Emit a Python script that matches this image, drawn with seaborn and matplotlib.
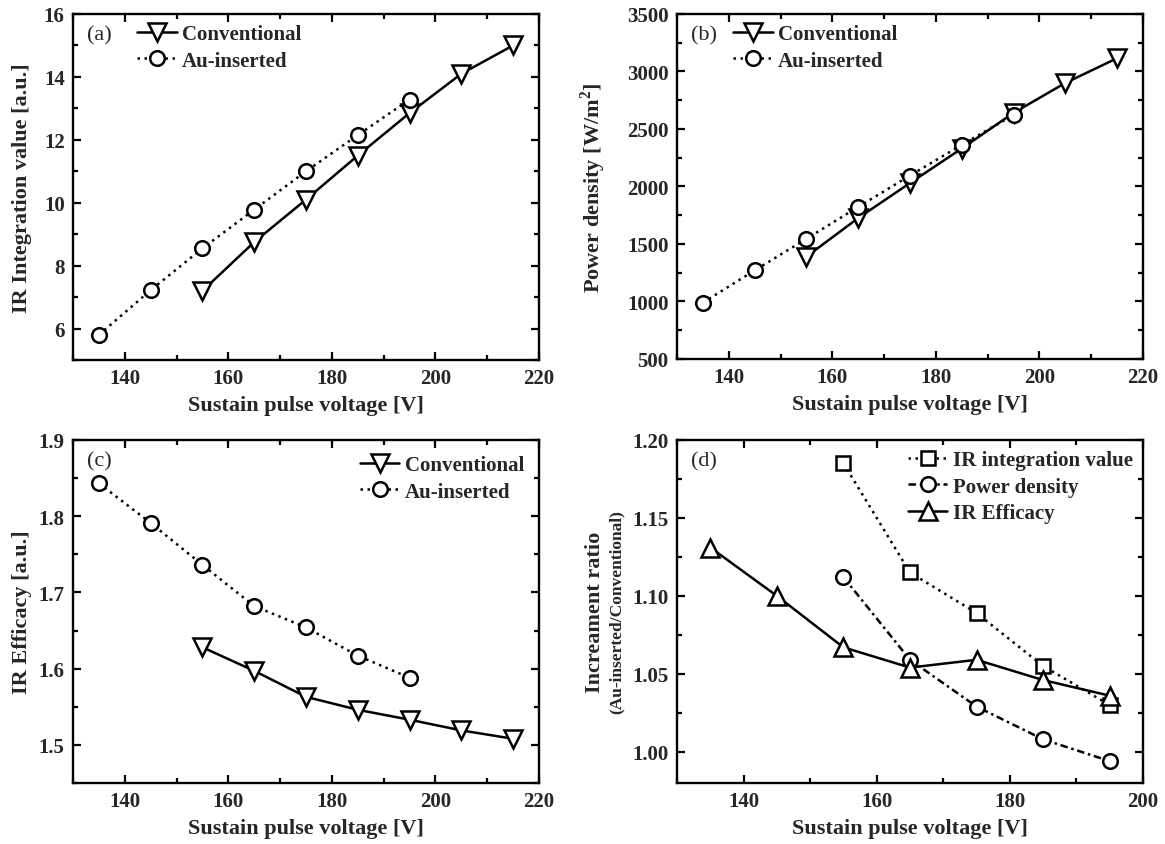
import matplotlib
matplotlib.use("Agg")
import matplotlib.pyplot as plt
from matplotlib.ticker import MultipleLocator, FormatStrFormatter
import seaborn as sns

# data
volt_conv = [155, 165, 175, 185, 195, 205, 215]
volt_au = [135, 145, 155, 165, 175, 185, 195]

ir_conv = [7.2, 8.75, 10.1, 11.5, 12.85, 14.1, 15.0]
ir_au = [5.8, 7.22, 8.55, 9.78, 11.0, 12.15, 13.28]

pd_conv = [1390, 1725, 2030, 2330, 2640, 2900, 3115]
pd_au = [990, 1270, 1545, 1822, 2095, 2362, 2622]

eff_conv = [1.628, 1.597, 1.563, 1.546, 1.533, 1.519, 1.508]
eff_au = [1.843, 1.791, 1.736, 1.682, 1.654, 1.617, 1.588]

volt_ratio = [155, 165, 175, 185, 195]
ratio_ir = [1.185, 1.115, 1.089, 1.055, 1.030]
ratio_pd = [1.112, 1.059, 1.029, 1.008, 0.994]
volt_ratio_eff = [135, 145, 155, 165, 175, 185, 195]
ratio_eff = [1.131, 1.100, 1.067, 1.054, 1.059, 1.046, 1.036]

sns.set_style("ticks")
plt.rcParams['font.family'] = ['Liberation Serif', 'DejaVu Serif']
plt.rcParams['font.weight'] = 'bold'
plt.rcParams['axes.labelweight'] = 'bold'
plt.rcParams['mathtext.fontset'] = 'custom'
plt.rcParams['mathtext.rm'] = 'Liberation Serif:bold'
plt.rcParams['mathtext.bf'] = 'Liberation Serif:bold'

XLABEL = "Sustain pulse voltage [V]"
DOT = (0, (1, 1.8))
DASHDOT = (0, (3, 1.5, 1, 1.5))


def draw(ax, x, y, marker, ms, ls, label):
    sns.lineplot(x=x, y=y, ax=ax, color="black", marker=marker, markersize=ms,
                 markerfacecolor="white", markeredgecolor="black",
                 markeredgewidth=1.8, linewidth=1.8, linestyle=ls, label=label)


def style_axis(ax, xlim, ylim, xmaj, ymaj, ylabel, ylab_x, tag):
    ax.set_xlim(*xlim)
    ax.set_ylim(*ylim)
    ax.xaxis.set_major_locator(MultipleLocator(xmaj))
    ax.xaxis.set_minor_locator(MultipleLocator(xmaj / 2))
    ax.yaxis.set_major_locator(MultipleLocator(ymaj))
    ax.yaxis.set_minor_locator(MultipleLocator(ymaj / 2))
    ax.tick_params(which="both", direction="in", top=True, right=True,
                   width=1.6, labelsize=15, color="black")
    ax.tick_params(which="major", length=6, pad=6)
    ax.tick_params(which="minor", length=3.5)
    for s in ax.spines.values():
        s.set_linewidth(1.7)
        s.set_color("black")
    ax.set_xlabel(XLABEL, fontsize=16, labelpad=5)
    ax.set_ylabel(ylabel, fontsize=16)
    ax.yaxis.set_label_coords(ylab_x, 0.5)
    ax.text(0.03, 0.94, tag, transform=ax.transAxes, fontsize=16,
            fontweight="normal", va="center", ha="left")


fig = plt.figure(figsize=(11.65, 8.45), dpi=100)
ax_a = fig.add_axes([0.0627, 0.5728, 0.40, 0.4095])
ax_b = fig.add_axes([0.5811, 0.5740, 0.40, 0.4083])
ax_c = fig.add_axes([0.0627, 0.0722, 0.40, 0.4060])
ax_d = fig.add_axes([0.5811, 0.0722, 0.40, 0.4060])

leg_kw = dict(frameon=False, fontsize=15, handlelength=1.9, handletextpad=0.25,
              labelspacing=0.3, borderaxespad=0.1)

# (a)
draw(ax_a, volt_conv, ir_conv, "v", 13, "-", "Conventional")
draw(ax_a, volt_au, ir_au, "o", 10.5, DOT, "Au-inserted")
style_axis(ax_a, (130, 220), (5, 16), 20, 2, "IR Integration value [a.u.]", -0.088, "(a)")
ax_a.legend(loc="upper left", bbox_to_anchor=(0.115, 1.0), **leg_kw)

# (b)
draw(ax_b, volt_conv, pd_conv, "v", 13, "-", "Conventional")
draw(ax_b, volt_au, pd_au, "o", 10.5, DOT, "Au-inserted")
style_axis(ax_b, (130, 220), (500, 3500), 20, 500, r"Power density [W/m$^{\mathbf{2}}$]", -0.148, "(b)")
ax_b.legend(loc="upper left", bbox_to_anchor=(0.098, 1.0), **leg_kw)

# (c)
draw(ax_c, volt_conv, eff_conv, "v", 13, "-", "Conventional")
draw(ax_c, volt_au, eff_au, "o", 10.5, DOT, "Au-inserted")
style_axis(ax_c, (130, 220), (1.45, 1.9), 20, 0.1, "IR Efficacy [a.u.]", -0.088, "(c)")
ax_c.legend(loc="upper right", bbox_to_anchor=(0.99, 0.985), **leg_kw)

# (d)
draw(ax_d, volt_ratio, ratio_ir, "s", 9.5, DOT, "IR integration value")
draw(ax_d, volt_ratio, ratio_pd, "o", 10.5, DASHDOT, "Power density")
draw(ax_d, volt_ratio_eff, ratio_eff, "^", 13, "-", "IR Efficacy")
style_axis(ax_d, (130, 200), (0.98, 1.20), 20, 0.05, "Increament ratio", -0.155, "(d)")
ax_d.yaxis.set_major_formatter(FormatStrFormatter("%.2f"))
ax_d.text(-0.112, 0.5, "(Au-inserted/Conventional)", transform=ax_d.transAxes,
          rotation=90, fontsize=12.5, ha="right", va="center")
ax_d.legend(loc="upper right", bbox_to_anchor=(1.0, 1.0), **leg_kw)

fig.savefig("out.png", dpi=100)
